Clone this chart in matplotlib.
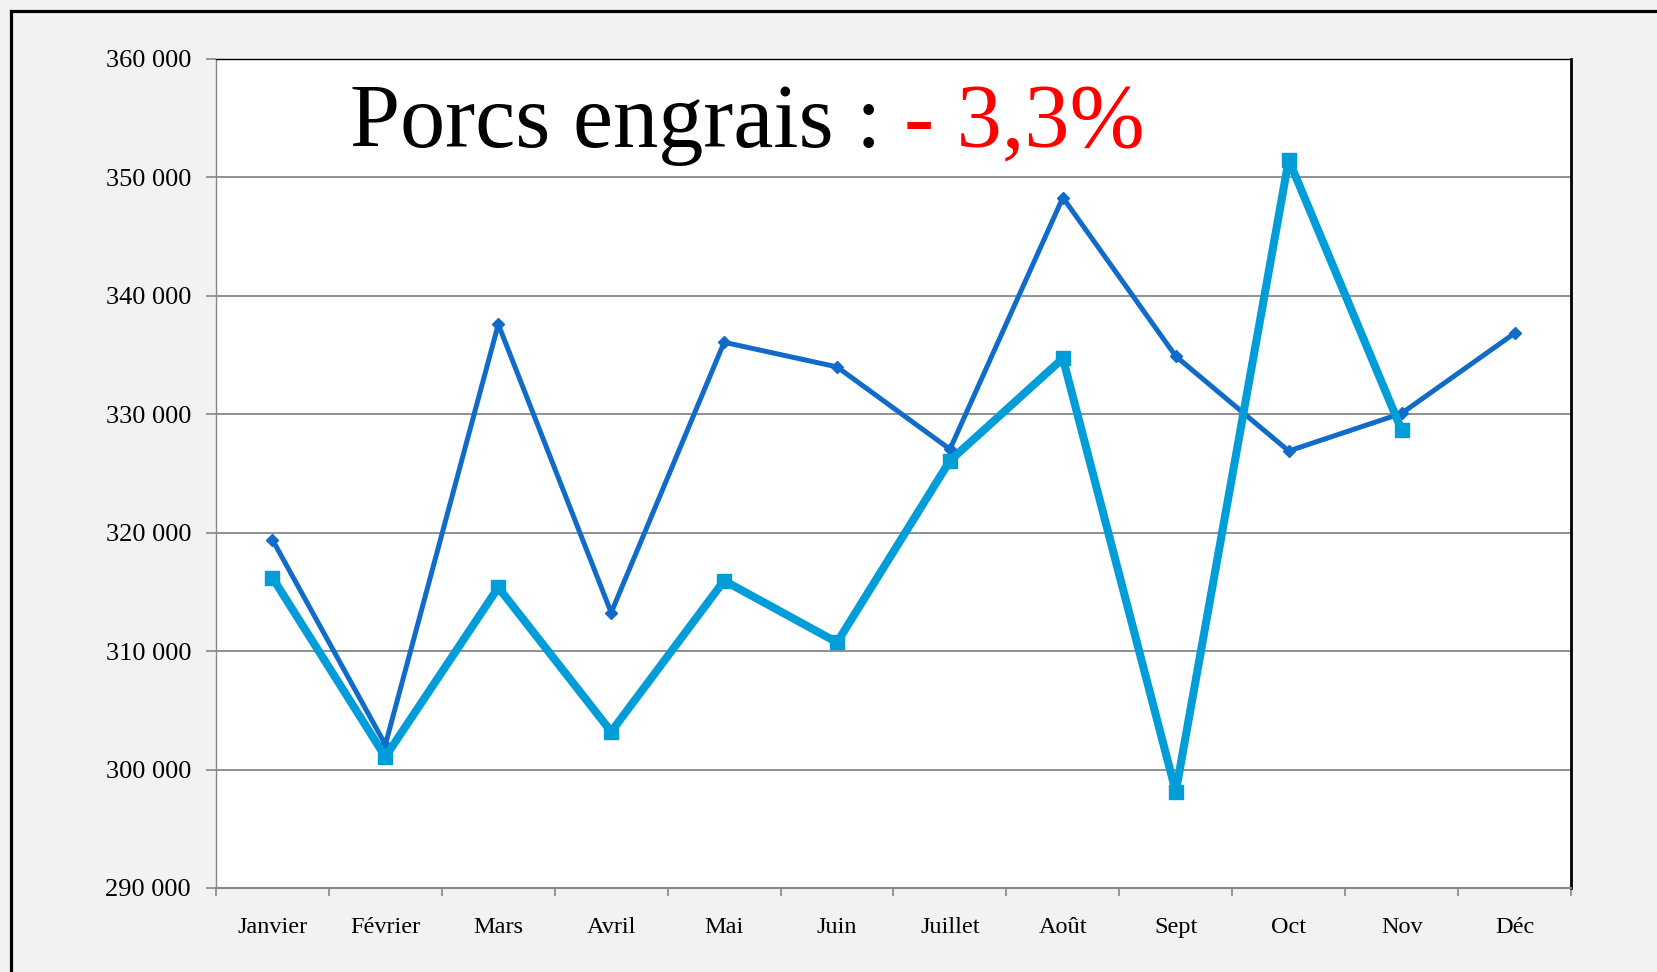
"""Porcs engrais : monthly slaughter numbers, two years compared."""
import matplotlib
matplotlib.use("Agg")
import matplotlib.pyplot as plt
from matplotlib.lines import Line2D
from matplotlib.ticker import FuncFormatter, FixedLocator

months = ["Janvier", "Février", "Mars", "Avril", "Mai", "Juin",
          "Juillet", "Août", "Sept", "Oct", "Nov", "Déc"]
# previous year (dark blue, diamonds)
prev_year = [319400, 302100, 337600, 313250, 336080, 334000,
             327050, 348300, 334900, 326900, 330080, 336840]
# current year (light blue, squares), no December yet
curr_year = [316200, 301080, 315380, 303200, 315950, 310740,
             326080, 334720, 298130, 351480, 328680]

title_black = "Porcs engrais : "
title_red = "- 3,3%"

plt.rcParams["font.family"] = ["Liberation Serif", "DejaVu Serif"]

W, H = 1657, 972
fig = plt.figure(figsize=(W / 100, H / 100), dpi=100, facecolor="#f2f2f2")

# outer frame of the slide (top and left edges only)
fig.add_artist(Line2D([11 / W, 1], [1 - 11 / H, 1 - 11 / H], color="black", lw=2.3,
                      transform=fig.transFigure))
fig.add_artist(Line2D([11 / W, 11 / W], [0, 1 - 11 / H], color="black", lw=2.3,
                      transform=fig.transFigure))

left, right, top, bottom = 216, 1571, 59, 888
ax = fig.add_axes([left / W, 1 - bottom / H, (right - left) / W, (bottom - top) / H])
ax.set_facecolor("white")

x = list(range(len(months)))
ax.plot(x, prev_year, color="#106cc8", lw=3.6, marker="D", ms=6, zorder=3)
ax.plot(x[:len(curr_year)], curr_year, color="#009dd9", lw=5.8, marker="s", ms=10,
        zorder=4)

ax.set_ylim(290000, 360000)
ax.set_xlim(-0.5, 11.5)
ax.set_yticks(range(290000, 360001, 10000))
ax.yaxis.set_major_formatter(FuncFormatter(lambda v, _: f"{int(v):,}".replace(",", " ")))
ax.grid(axis="y", color="#878787", lw=1.3)
ax.set_axisbelow(True)

ax.xaxis.set_major_locator(FixedLocator([i - 0.5 for i in range(13)]))
ax.xaxis.set_minor_locator(FixedLocator(x))
ax.set_xticklabels([], minor=False)
ax.set_xticklabels(months, minor=True)
ax.tick_params(axis="x", which="major", length=6, width=1.2, color="#878787")
ax.tick_params(axis="x", which="minor", length=0, pad=21, labelsize=17.5)
ax.tick_params(axis="y", length=7, width=1.2, color="#878787", pad=11, labelsize=19)

for side in ("left", "bottom"):
    ax.spines[side].set_color("#878787")
ax.spines["left"].set_linewidth(1.0)
ax.spines["bottom"].set_linewidth(1.5)
ax.spines["top"].set_color("black")
ax.spines["top"].set_linewidth(1.0)
ax.spines["right"].set_color("black")
ax.spines["right"].set_linewidth(2.0)

t1 = ax.text(0.099, 0.871, title_black, transform=ax.transAxes, fontsize=65,
             color="black", ha="left", va="bottom")
ax.annotate(title_red, xy=(1, 0), xycoords=t1, fontsize=65, color="#ff0000",
            ha="left", va="bottom")

fig.savefig("out.png", dpi=100, facecolor=fig.get_facecolor())
